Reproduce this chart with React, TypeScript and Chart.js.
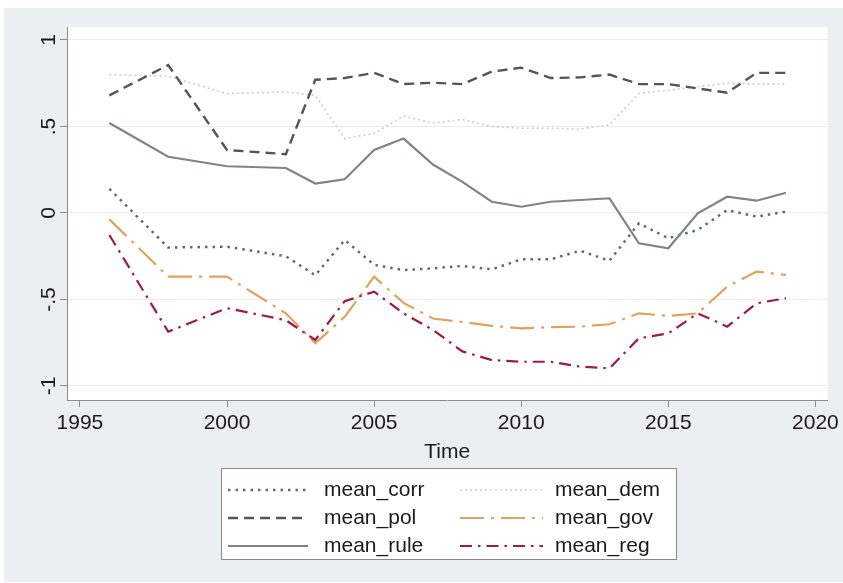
import React, { useEffect, useRef } from "react";
import { Chart, registerables } from "chart.js";

Chart.register(...registerables);

// ---- data ----
const years = [1996, 1998, 2000, 2002, 2003, 2004, 2005, 2006, 2007, 2008, 2009, 2010, 2011, 2012, 2013, 2014, 2015, 2016, 2017, 2018, 2019];
const meanCorr = [0.14, -0.2, -0.195, -0.25, -0.36, -0.156, -0.3, -0.33, -0.32, -0.306, -0.326, -0.268, -0.268, -0.218, -0.276, -0.06, -0.146, -0.098, 0.017, -0.021, 0.008];
const meanDem = [0.8, 0.79, 0.69, 0.7, 0.68, 0.43, 0.46, 0.56, 0.52, 0.54, 0.5, 0.49, 0.49, 0.485, 0.51, 0.69, 0.71, 0.73, 0.75, 0.745, 0.745];
const meanPol = [0.68, 0.855, 0.364, 0.34, 0.77, 0.78, 0.81, 0.745, 0.753, 0.745, 0.817, 0.84, 0.78, 0.784, 0.8, 0.745, 0.745, 0.72, 0.695, 0.81, 0.81];
const meanGov = [-0.037, -0.368, -0.368, -0.58, -0.753, -0.6, -0.368, -0.52, -0.61, -0.63, -0.653, -0.667, -0.66, -0.657, -0.643, -0.58, -0.595, -0.58, -0.426, -0.339, -0.358];
const meanRule = [0.52, 0.325, 0.27, 0.26, 0.17, 0.195, 0.364, 0.43, 0.28, 0.18, 0.065, 0.036, 0.065, 0.075, 0.085, -0.175, -0.204, -0.002, 0.094, 0.071, 0.117];
const meanReg = [-0.127, -0.686, -0.55, -0.62, -0.734, -0.51, -0.455, -0.58, -0.676, -0.8, -0.85, -0.86, -0.86, -0.888, -0.898, -0.724, -0.696, -0.58, -0.657, -0.522, -0.493];

const seriesNames = ["mean_corr", "mean_dem", "mean_pol", "mean_gov", "mean_rule", "mean_reg"];
const seriesValues = [meanCorr, meanDem, meanPol, meanGov, meanRule, meanReg];

const xTicks = [1995, 2000, 2005, 2010, 2015, 2020];
const yTicks = [-1, -0.5, 0, 0.5, 1];
const yTickLabels = ["-1", "-.5", "0", ".5", "1"];
const xTitle = "Time";

// ---- styles ----
const W = 843;
const H = 583;
const FONT = '"Liberation Sans", Arial, Helvetica, sans-serif';
const AXIS = "#8c8c8c";

const styles = [
  { color: "#5a6a7e", dash: [2.5, 5], width: 2.5 },
  { color: "#cdcdcd", dash: [2, 3], width: 1.6 },
  { color: "#555555", dash: [10, 6], width: 2.4 },
  { color: "#e0a35a", dash: [24, 7, 3, 7], width: 2.2 },
  { color: "#7d8686", dash: [], width: 2.2 },
  { color: "#a01a42", dash: [12, 6, 2.5, 6], width: 2.2 },
];

const decorPlugin = {
  id: "decor",
  beforeDraw(chart: any) {
    const { ctx, chartArea: a } = chart;
    ctx.save();
    ctx.fillStyle = "#ffffff";
    ctx.fillRect(0, 0, W, H);
    ctx.fillStyle = "#eaeff2";
    ctx.fillRect(4, 8, W - 4, H - 9);
    ctx.fillStyle = "#ffffff";
    ctx.fillRect(a.left, a.top, a.right - a.left, a.bottom - a.top);
    ctx.restore();
  },
  afterDraw(chart: any) {
    const { ctx, chartArea: a } = chart;
    const ys = chart.scales.y;
    ctx.save();
    ctx.fillStyle = "#1a1a1a";
    ctx.font = `21px ${FONT}`;
    // rotated y tick labels
    yTicks.forEach((v, i) => {
      const py = ys.getPixelForValue(v);
      ctx.save();
      ctx.translate(55, py);
      ctx.rotate(-Math.PI / 2);
      ctx.textAlign = "center";
      ctx.textBaseline = "alphabetic";
      ctx.fillText(yTickLabels[i], 0, 0);
      ctx.restore();
    });
    // x title
    ctx.textAlign = "center";
    ctx.textBaseline = "alphabetic";
    ctx.fillText(xTitle, (a.left + a.right) / 2, 458);

    // legend box
    const bx = 221, by = 468, bw = 456, bh = 92;
    ctx.fillStyle = "#ffffff";
    ctx.fillRect(bx, by, bw, bh);
    ctx.strokeStyle = "#8a8a8a";
    ctx.lineWidth = 1;
    ctx.strokeRect(bx + 0.5, by + 0.5, bw - 1, bh - 1);

    const rowY = [490, 518, 546];
    const cols = [
      { x0: 228, x1: 308, tx: 324 },
      { x0: 460, x1: 543, tx: 555 },
    ];
    chart.data.datasets.forEach((ds: any, i: number) => {
      const r = Math.floor(i / 2);
      const c = cols[i % 2];
      const y = rowY[r];
      ctx.save();
      ctx.strokeStyle = ds.borderColor;
      ctx.lineWidth = ds.borderWidth;
      ctx.setLineDash(ds.borderDash || []);
      ctx.beginPath();
      ctx.moveTo(c.x0, y);
      ctx.lineTo(c.x1, y);
      ctx.stroke();
      ctx.restore();
      ctx.fillStyle = "#1a1a1a";
      ctx.textAlign = "left";
      ctx.textBaseline = "middle";
      ctx.font = `21px ${FONT}`;
      ctx.fillText(ds.label, c.tx, y);
    });
    ctx.restore();
  },
};

export default function App() {
  const ref = useRef<HTMLCanvasElement | null>(null);

  useEffect(() => {
    if (!ref.current) return;
    const datasets = seriesNames.map((name, i) => ({
      label: name,
      data: years.map((x, j) => ({ x, y: seriesValues[i][j] })),
      borderColor: styles[i].color,
      backgroundColor: styles[i].color,
      borderWidth: styles[i].width,
      borderDash: styles[i].dash,
      pointRadius: 0,
      tension: 0,
      fill: false,
      order: seriesNames.length - i,
    }));

    const chart = new Chart(ref.current, {
      type: "line",
      data: { datasets },
      options: {
        responsive: false,
        animation: false,
        devicePixelRatio: 1,
        layout: { padding: { left: 0, top: 27, right: 15, bottom: 0 } },
        plugins: { legend: { display: false }, tooltip: { enabled: false } },
        scales: {
          x: {
            type: "linear",
            min: 1994.56,
            max: 2020.41,
            afterBuildTicks: (s: any) => {
              s.ticks = xTicks.map((v) => ({ value: v }));
            },
            afterFit: (s: any) => {
              s.height = 183;
            },
            grid: { drawOnChartArea: false, drawTicks: true, tickLength: 7, tickColor: AXIS },
            border: { display: true, color: AXIS, width: 1 },
            ticks: {
              autoSkip: false,
              maxRotation: 0,
              minRotation: 0,
              padding: 4,
              color: "#1a1a1a",
              font: { family: FONT, size: 21 },
              callback: (v: any) => String(v),
            },
          },
          y: {
            type: "linear",
            min: -1.081,
            max: 1.075,
            afterBuildTicks: (s: any) => {
              s.ticks = yTicks.map((v) => ({ value: v }));
            },
            afterFit: (s: any) => {
              s.width = 67;
            },
            grid: { color: "#ececec", lineWidth: 1, drawTicks: true, tickLength: 7, tickColor: AXIS },
            border: { display: true, color: AXIS, width: 1 },
            ticks: { display: false },
          },
        },
      },
      plugins: [decorPlugin],
    } as any);

    return () => chart.destroy();
  }, []);

  return (
    <div style={{ position: "absolute", left: 0, top: 0, width: W, height: H }}>
      <canvas ref={ref} width={W} height={H} style={{ display: "block", width: W, height: H }} />
    </div>
  );
}
